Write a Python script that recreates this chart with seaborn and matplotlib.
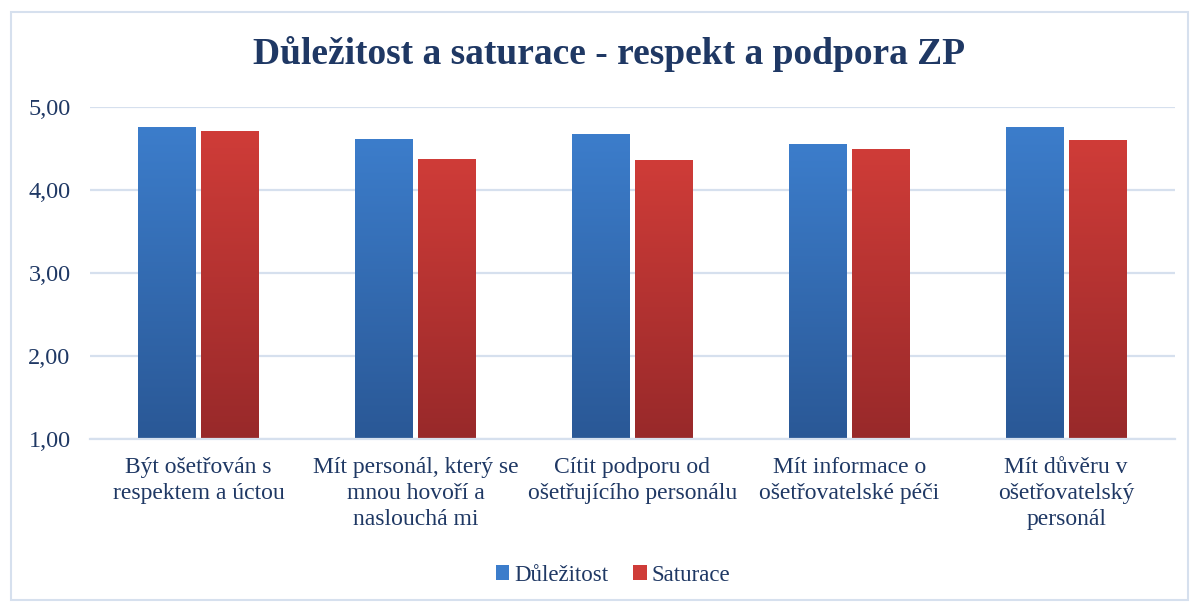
import numpy as np
import pandas as pd
import matplotlib
matplotlib.use("Agg")
import matplotlib.pyplot as plt
from matplotlib.colors import LinearSegmentedColormap
from matplotlib.patches import Rectangle
from matplotlib.ticker import FuncFormatter
import seaborn as sns

categories = [
    "Být ošetřován s\nrespektem a úctou",
    "Mít personál, který se\nmnou hovoří a\nnaslouchá mi",
    "Cítit podporu od\nošetřujícího personálu",
    "Mít informace o\nošetřovatelské péči",
    "Mít důvěru v\nošetřovatelský\npersonál",
]
dulezitost = [4.75, 4.61, 4.67, 4.55, 4.75]
saturace = [4.71, 4.37, 4.36, 4.49, 4.60]
series_names = ["Důležitost", "Saturace"]
yticks = [1, 2, 3, 4, 5]

df = pd.DataFrame({
    "cat": categories * 2,
    "val": dulezitost + saturace,
    "ser": [series_names[0]] * 5 + [series_names[1]] * 5,
})

sns.set_theme(style="white")
plt.rcParams["font.family"] = ["Liberation Serif", "DejaVu Serif"]
navy = "#1F3864"
blue_top, blue_bot = "#3C7DCB", "#2A5896"
red_top, red_bot = "#CF3C38", "#98292A"
ymin, ymax = 1, 5

fig = plt.figure(figsize=(11.95, 6.03), dpi=100)
ax = fig.add_axes([0.0753, 0.272, 0.9077, 0.5506])

sns.barplot(data=df, x="cat", y="val", hue="ser", palette=[blue_top, red_top],
            width=0.58, gap=0.09, ax=ax, legend=False, saturation=1)

ax.set_yticks(yticks)
ax.yaxis.set_major_formatter(FuncFormatter(lambda v, p: f"{v:.2f}".replace(".", ",")))
ax.grid(axis="y", color="#D6E0EE", linewidth=1.6)
ax.set_axisbelow(True)
for s in ["left", "right", "top"]:
    ax.spines[s].set_visible(False)
ax.spines["bottom"].set_color("#D6E0EE")
ax.spines["bottom"].set_linewidth(1.6)
ax.set_xlabel("")
ax.set_ylabel("")
ax.tick_params(axis="y", labelsize=17.5, labelcolor=navy, pad=14, length=0)
ax.tick_params(axis="x", labelsize=17, labelcolor=navy, pad=13, length=0)
for lbl in ax.get_xticklabels():
    lbl.set_linespacing(1.32)

# gradient fill on bars (visible part from axis minimum up)
cmaps = [LinearSegmentedColormap.from_list("b", [blue_bot, blue_top]),
         LinearSegmentedColormap.from_list("r", [red_bot, red_top])]
grad = np.linspace(0, 1, 256).reshape(-1, 1)
bars = [p for p in ax.patches if isinstance(p, Rectangle) and p.get_height() > 0]
for i, p in enumerate(bars):
    cm = cmaps[0] if i < len(categories) else cmaps[1]
    x0, w = p.get_x(), p.get_width()
    top = p.get_y() + p.get_height()
    bot = max(p.get_y(), ymin)
    p.set_visible(False)
    ax.imshow(grad, extent=[x0, x0 + w, bot, top], origin="lower",
              aspect="auto", cmap=cm, zorder=p.get_zorder() + 0.1)
ax.set_xlim(-0.5, 4.5)
ax.set_ylim(ymin, ymax)

# legend
handles = [Rectangle((0, 0), 1, 1, facecolor=blue_top, edgecolor="none"),
           Rectangle((0, 0), 1, 1, facecolor=red_top, edgecolor="none")]
fig.legend(handles, series_names, loc="center", bbox_to_anchor=(0.513, 0.046),
           ncol=2, frameon=False, fontsize=16.5, labelcolor=navy,
           handlelength=0.6, handleheight=0.6, handletextpad=0.2, columnspacing=1.1)

fig.text(0.51, 0.91, "Důležitost a saturace - respekt a podpora ZP",
         ha="center", va="center", fontsize=27, fontweight="bold", color=navy)

# outer border
fig.patches.append(Rectangle((0.009, 0.005), 0.985, 0.975, transform=fig.transFigure,
                             fill=False, edgecolor="#D6E0EE", linewidth=1.5))

fig.savefig("out.png", dpi=100)
